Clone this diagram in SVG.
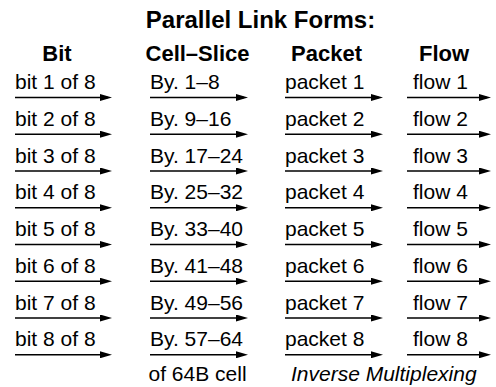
<svg xmlns="http://www.w3.org/2000/svg" width="496" height="387" viewBox="0 0 496 387">
<defs>
<style>
text{font-family:"Liberation Sans",Arial,Helvetica,sans-serif;fill:#000}
.t{font-size:24px;font-weight:bold;text-anchor:middle}
.h{font-size:22px;font-weight:bold;text-anchor:middle}
.r{font-size:21px}
.i{font-size:21px;font-style:italic}
.a{stroke:#000;stroke-width:1.6;fill:none;marker-end:url(#ah)}
</style>
<marker id="ah" viewBox="0 0 12 7" refX="8" refY="3.5" markerWidth="12" markerHeight="7" markerUnits="userSpaceOnUse" orient="auto">
<path d="M0,0 L12,3.5 L0,7 z" fill="#000"/>
</marker>
</defs>
<rect width="496" height="387" fill="#fff"/>
<g id="title"><text class="t" x="260.5" y="28">Parallel Link Forms:</text></g>
<g id="headers">
<text class="h" x="57" y="61">Bit</text>
<text class="h" x="197.5" y="61">Cell–Slice</text>
<text class="h" x="326.5" y="61">Packet</text>
<text class="h" x="444" y="61">Flow</text>
</g>
<g id="col-bit">
<text class="r" x="15" y="89">bit 1 of 8</text>
<text class="r" x="15" y="125.75">bit 2 of 8</text>
<text class="r" x="15" y="162.5">bit 3 of 8</text>
<text class="r" x="15" y="199.25">bit 4 of 8</text>
<text class="r" x="15" y="236">bit 5 of 8</text>
<text class="r" x="15" y="272.75">bit 6 of 8</text>
<text class="r" x="15" y="309.5">bit 7 of 8</text>
<text class="r" x="15" y="346.25">bit 8 of 8</text>
</g>
<g id="col-cell">
<text class="r" x="150" y="89">By. 1–8</text>
<text class="r" x="150" y="125.75">By. 9–16</text>
<text class="r" x="150" y="162.5">By. 17–24</text>
<text class="r" x="150" y="199.25">By. 25–32</text>
<text class="r" x="150" y="236">By. 33–40</text>
<text class="r" x="150" y="272.75">By. 41–48</text>
<text class="r" x="150" y="309.5">By. 49–56</text>
<text class="r" x="150" y="346.25">By. 57–64</text>
<text class="r" x="148.5" y="381">of 64B cell</text>
</g>
<g id="col-packet">
<text class="r" x="285" y="89">packet 1</text>
<text class="r" x="285" y="125.75">packet 2</text>
<text class="r" x="285" y="162.5">packet 3</text>
<text class="r" x="285" y="199.25">packet 4</text>
<text class="r" x="285" y="236">packet 5</text>
<text class="r" x="285" y="272.75">packet 6</text>
<text class="r" x="285" y="309.5">packet 7</text>
<text class="r" x="285" y="346.25">packet 8</text>
</g>
<g id="col-flow">
<text class="r" x="413" y="89">flow 1</text>
<text class="r" x="413" y="125.75">flow 2</text>
<text class="r" x="413" y="162.5">flow 3</text>
<text class="r" x="413" y="199.25">flow 4</text>
<text class="r" x="413" y="236">flow 5</text>
<text class="r" x="413" y="272.75">flow 6</text>
<text class="r" x="413" y="309.5">flow 7</text>
<text class="r" x="413" y="346.25">flow 8</text>
</g>
<g id="caption"><text class="i" x="291" y="381">Inverse Multiplexing</text></g>
<g id="connectors">
<path class="a" d="M15,97.5H108"/><path class="a" d="M150,97.5H244"/><path class="a" d="M285,97.5H379"/><path class="a" d="M407,97.5H487"/>
<path class="a" d="M15,134.25H108"/><path class="a" d="M150,134.25H244"/><path class="a" d="M285,134.25H379"/><path class="a" d="M407,134.25H487"/>
<path class="a" d="M15,171H108"/><path class="a" d="M150,171H244"/><path class="a" d="M285,171H379"/><path class="a" d="M407,171H487"/>
<path class="a" d="M15,207.75H108"/><path class="a" d="M150,207.75H244"/><path class="a" d="M285,207.75H379"/><path class="a" d="M407,207.75H487"/>
<path class="a" d="M15,244.5H108"/><path class="a" d="M150,244.5H244"/><path class="a" d="M285,244.5H379"/><path class="a" d="M407,244.5H487"/>
<path class="a" d="M15,281.25H108"/><path class="a" d="M150,281.25H244"/><path class="a" d="M285,281.25H379"/><path class="a" d="M407,281.25H487"/>
<path class="a" d="M15,318H108"/><path class="a" d="M150,318H244"/><path class="a" d="M285,318H379"/><path class="a" d="M407,318H487"/>
<path class="a" d="M15,354.75H108"/><path class="a" d="M150,354.75H244"/><path class="a" d="M285,354.75H379"/><path class="a" d="M407,354.75H487"/>
</g>
</svg>
